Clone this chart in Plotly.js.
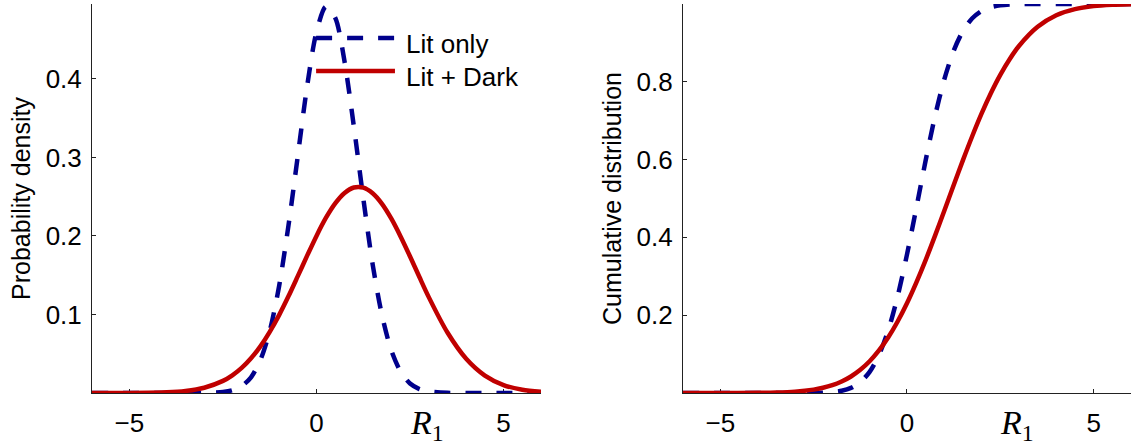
<!DOCTYPE html>
<html>
<head>
<meta charset="utf-8">
<script src="https://cdn.plot.ly/plotly-3.0.1.min.js"></script>
<style>
  body { margin: 0; background: #fff; }
  #chart { width: 1133px; height: 445px; }
</style>
</head>
<body>
<div id="chart"></div>
<script>
// values (R1 grid shared by all four curves)
const r1 = [-6, -5, -4, -3.5, -3, -2.5, -2.25, -2, -1.75, -1.5, -1.25, -1, -0.75, -0.5, -0.25,
  0, 0.25, 0.5, 0.75, 1, 1.25, 1.5, 1.75, 2, 2.25, 2.5, 2.75, 3, 3.5, 4, 4.5, 5, 5.5, 6];

// probability density
const litOnlyPdf = [0, 0, 0, 0, 0.0001, 0.0013, 0.0035, 0.0088, 0.020, 0.042, 0.079, 0.136, 0.213, 0.302, 0.391,
  0.460, 0.492, 0.478, 0.422, 0.339, 0.248, 0.164, 0.099, 0.054, 0.027, 0.012, 0.005, 0.002, 0.0002, 0, 0, 0, 0, 0];
const litDarkPdf = [0, 0.0001, 0.0009, 0.0026, 0.0067, 0.0154, 0.0225, 0.0319, 0.0442, 0.0594, 0.0779, 0.0992, 0.1231, 0.1488, 0.1749,
  0.2001, 0.2229, 0.2415, 0.2548, 0.2617, 0.2615, 0.2544, 0.2409, 0.2220, 0.1991, 0.1739, 0.1477, 0.1221, 0.0770, 0.0436, 0.0222, 0.0101, 0.0041, 0.0015];

// cumulative distribution
const litOnlyCdf = [0, 0, 0, 0, 0, 0.0003, 0.0008, 0.0023, 0.0057, 0.0131, 0.0278, 0.0543, 0.0975, 0.1616, 0.2486,
  0.3557, 0.4754, 0.5975, 0.7109, 0.8062, 0.8796, 0.9307, 0.9633, 0.9821, 0.9920, 0.9967, 0.9988, 0.9996, 1, 1, 1, 1, 1, 1];
const litDarkCdf = [0, 0.00003, 0.0004, 0.0012, 0.0034, 0.0086, 0.0133, 0.0200, 0.0295, 0.0424, 0.0595, 0.0815, 0.1093, 0.1432, 0.1838,
  0.2306, 0.2837, 0.3416, 0.4040, 0.4685, 0.5341, 0.5987, 0.6607, 0.7187, 0.7713, 0.8180, 0.8582, 0.8920, 0.9413, 0.9710, 0.9869, 0.9947, 0.9980, 0.9993];

const seriesNames = ['Lit only', 'Lit + Dark'];
const xTicks = [-5, 0, 5];
const xTickText = ['\u22125', '0', '5'];
const pdfTicks = [0.1, 0.2, 0.3, 0.4];
const cdfTicks = [0.2, 0.4, 0.6, 0.8];

const BLUE = '#00008c';
const RED = '#c00000';
const DASH = '16px,15px';
const blueLine = {color: BLUE, width: 4.5, dash: DASH, shape: 'spline', smoothing: 0.8};
const redLine = {color: RED, width: 4.5, shape: 'spline', smoothing: 0.8};

const traces = [
  {x: r1, y: litOnlyPdf, name: seriesNames[0], mode: 'lines', line: blueLine, xaxis: 'x', yaxis: 'y'},
  {x: r1, y: litDarkPdf, name: seriesNames[1], mode: 'lines', line: redLine, xaxis: 'x', yaxis: 'y'},
  {x: r1, y: litOnlyCdf, name: seriesNames[0], mode: 'lines', line: blueLine, xaxis: 'x2', yaxis: 'y2'},
  {x: r1, y: litDarkCdf, name: seriesNames[1], mode: 'lines', line: redLine, xaxis: 'x2', yaxis: 'y2'}
];

// shared axis look
const ax = {
  showline: true, linecolor: '#222', linewidth: 1, mirror: false,
  showgrid: false, zeroline: false,
  ticks: 'inside', ticklen: 4, tickwidth: 1, tickcolor: '#222',
  tickfont: {size: 26, color: '#000'},
  layer: 'below traces', fixedrange: true
};

const yDom = [0.1169, 0.991];

// legend drawn by hand so the line samples are as long as in the original
const legX0 = 0.279, legX1 = 0.3486, legTextX = 0.3566;
const legRows = [0.9146, 0.8404];
const legShapes = [
  {type: 'line', xref: 'paper', yref: 'paper', x0: legX0, x1: legX1, y0: legRows[0], y1: legRows[0],
   line: {color: BLUE, width: 4.5, dash: DASH}},
  {type: 'line', xref: 'paper', yref: 'paper', x0: legX0, x1: legX1, y0: legRows[1], y1: legRows[1],
   line: {color: RED, width: 4.5}}
];
const legLabels = seriesNames.map((name, i) => ({
  xref: 'paper', yref: 'paper', x: legTextX, y: legRows[i] - 0.013, xanchor: 'left', yanchor: 'middle',
  showarrow: false, text: name, font: {size: 26, color: '#000'}
}));

const layout = {
  width: 1133, height: 445,
  margin: {l: 0, r: 0, t: 0, b: 0},
  paper_bgcolor: '#fff', plot_bgcolor: '#fff',
  font: {family: '"Liberation Sans", Arial, sans-serif', size: 26, color: '#000'},
  showlegend: false,
  xaxis: Object.assign({}, ax, {
    domain: [0.0812, 0.4775], range: [-6, 6], anchor: 'y',
    tickvals: xTicks, ticktext: xTickText, ticklabelstandoff: 7
  }),
  yaxis: Object.assign({}, ax, {
    domain: yDom, range: [0, 0.4955], anchor: 'x',
    tickvals: pdfTicks, ticktext: pdfTicks.map(v => v.toFixed(1)), ticklabelstandoff: 4,
    title: {text: 'Probability density', font: {size: 25}, standoff: 7}
  }),
  xaxis2: Object.assign({}, ax, {
    domain: [0.6028, 0.9982], range: [-6, 6], anchor: 'y2',
    tickvals: xTicks, ticktext: xTickText, ticklabelstandoff: 7
  }),
  yaxis2: Object.assign({}, ax, {
    domain: yDom, range: [0, 1], anchor: 'x2',
    tickvals: cdfTicks, ticktext: cdfTicks.map(v => v.toFixed(1)), ticklabelstandoff: 4,
    title: {text: 'Cumulative distribution', font: {size: 25}, standoff: 7}
  }),
  shapes: legShapes,
  // R1 labels sit right of centre, as in the original
  annotations: legLabels.concat(['x', 'x2'].map(ref => ({
    xref: ref, yref: 'paper', x: 2.95, y: 0.045, xanchor: 'center', yanchor: 'middle',
    showarrow: false, text: '<i>R</i><sub>1</sub>',
    font: {family: '"Liberation Serif", "Times New Roman", serif', size: 34, color: '#000'}
  })))
};

Plotly.newPlot('chart', traces, layout, {displayModeBar: false, staticPlot: true});
</script>
</body>
</html>
